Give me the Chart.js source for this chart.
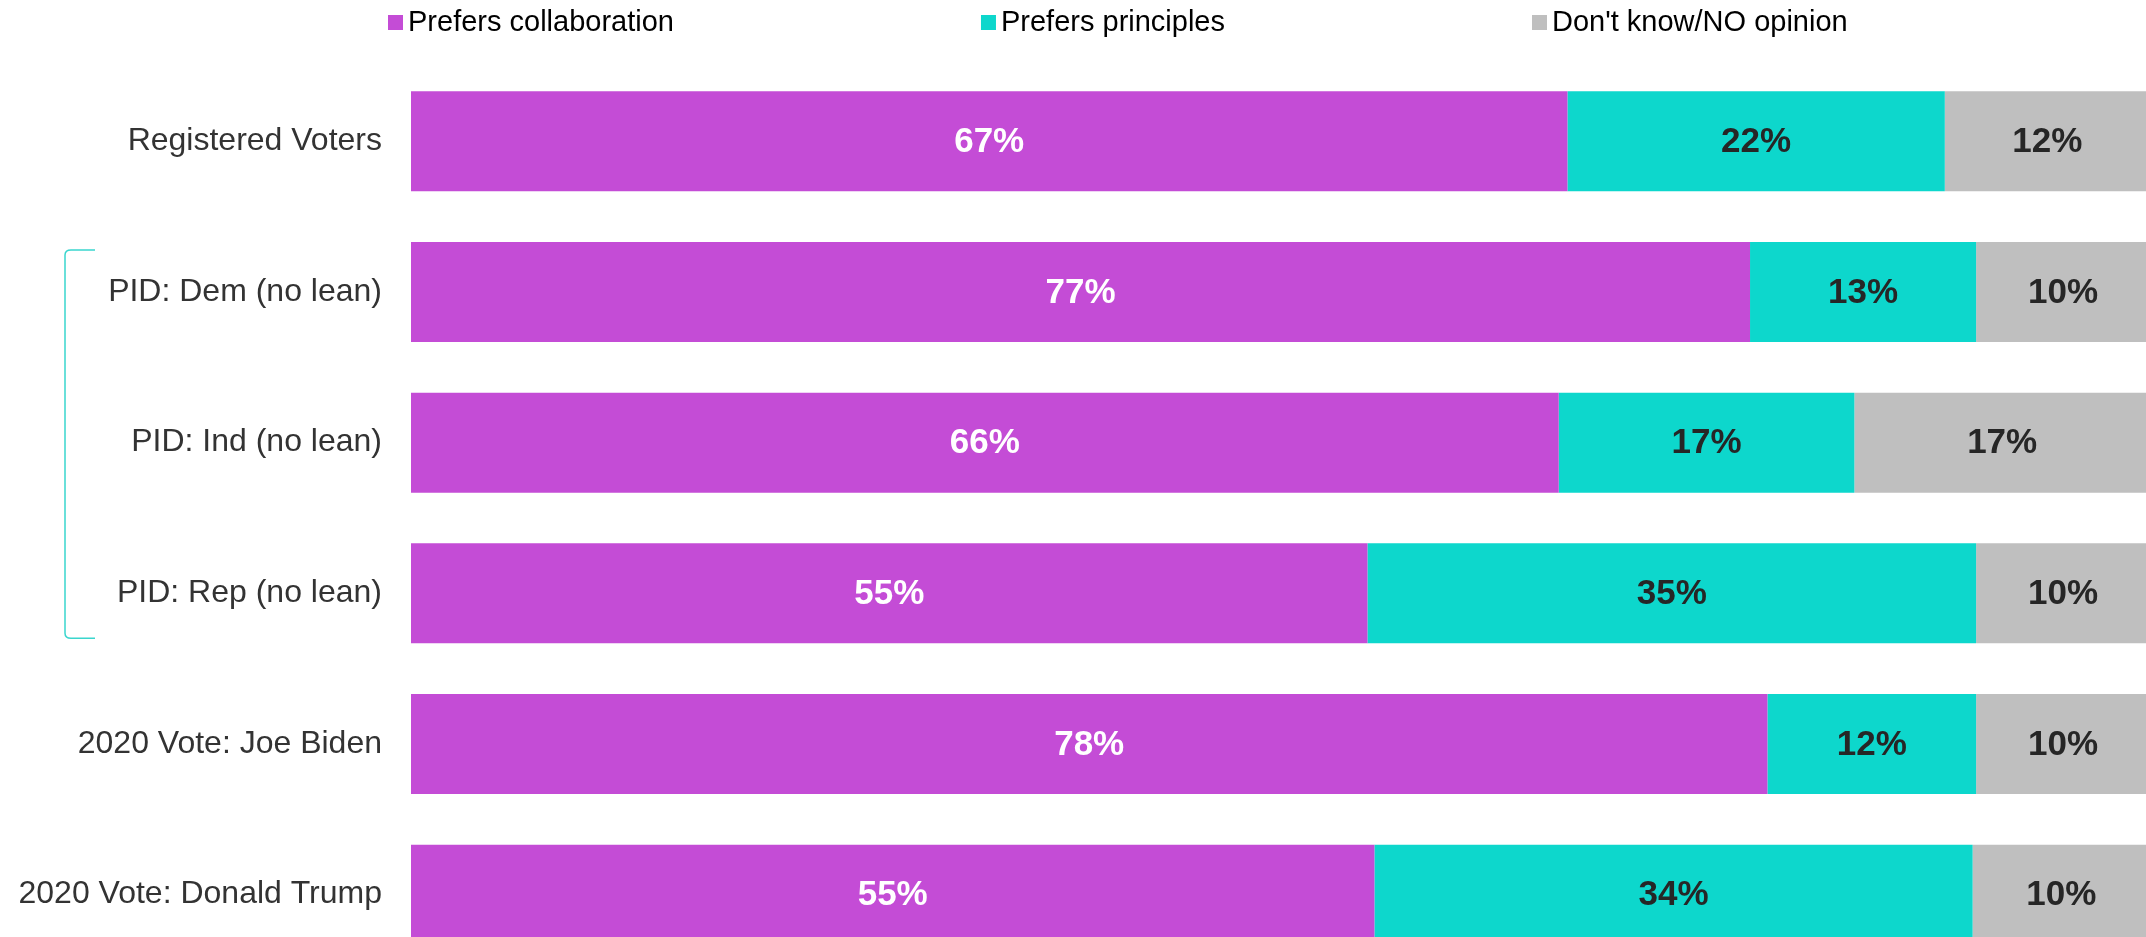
<!DOCTYPE html>
<html>
<head>
<meta charset="utf-8">
<script src="https://cdn.jsdelivr.net/npm/chart.js@4"></script>
<style>
    html, body { margin: 0; padding: 0; background: #ffffff; }
    body { width: 2146px; height: 937px; overflow: hidden; }
    canvas { display: block; }
</style>
</head>
<body>
<canvas id="chartColaboracion" width="2150" height="970"></canvas>
<script>
const categorias = [
    'Registered Voters',
    'PID: Dem (no lean)',
    'PID: Ind (no lean)',
    'PID: Rep (no lean)',
    '2020 Vote: Joe Biden',
    '2020 Vote: Donald Trump',
];
const nombresSeries = ['Prefers collaboration', 'Prefers principles', "Don't know/NO opinion"];
const colaboracion = [66.5, 77, 66, 55, 78, 55.4];
const principios = [21.7, 13, 17, 35, 12, 34.4];
const sinOpinion = [11.8, 10, 17, 10, 10, 10.2];

const fuente = '"Liberation Sans", Arial, sans-serif';

// etiquetas de porcentaje dentro de cada segmento
const etiquetasBarras = {
    id: 'etiquetasBarras',
    afterDatasetsDraw(chart) {
        const {ctx} = chart;
        ctx.save();
        ctx.font = 'bold 35px ' + fuente;
        ctx.textAlign = 'center';
        ctx.textBaseline = 'middle';
        chart.data.datasets.forEach((ds, i) => {
            chart.getDatasetMeta(i).data.forEach((barra, j) => {
                ctx.fillStyle = ds.colorEtiqueta;
                ctx.fillText(Math.round(ds.data[j]) + '%', (barra.x + barra.base) / 2, barra.y + 1);
            });
        });
        ctx.restore();
    }
};

// leyenda dibujada a mano para respetar el espaciado original
const leyenda = {
    id: 'leyenda',
    afterDraw(chart) {
        const {ctx} = chart;
        ctx.save();
        ctx.font = '29px ' + fuente;
        ctx.textBaseline = 'alphabetic';
        ctx.textAlign = 'left';
        let x = 388;
        chart.data.datasets.forEach(ds => {
            ctx.fillStyle = ds.backgroundColor;
            ctx.fillRect(x, 15, 15, 15);
            ctx.fillStyle = '#000000';
            ctx.fillText(ds.label, x + 20, 31);
            x += 20 + ctx.measureText(ds.label).width + 307;
        });
        ctx.restore();
    }
};

// corchete que agrupa las filas de PID
const corchete = {
    id: 'corchete',
    afterDraw(chart) {
        const {ctx} = chart;
        const y = chart.scales.y;
        const arriba = y.getPixelForValue(1) - 42;
        const abajo = y.getPixelForValue(3) + 45;
        ctx.save();
        ctx.strokeStyle = '#3ad6ce';
        ctx.lineWidth = 1.5;
        ctx.beginPath();
        ctx.moveTo(95, arriba);
        ctx.lineTo(71, arriba);
        ctx.quadraticCurveTo(65, arriba, 65, arriba + 5);
        ctx.lineTo(65, abajo - 5);
        ctx.quadraticCurveTo(65, abajo, 71, abajo);
        ctx.lineTo(95, abajo);
        ctx.stroke();
        ctx.restore();
    }
};

iniciarGrafico();

function iniciarGrafico() {
    const ctx = document.getElementById('chartColaboracion');

    const dataGrafico = {
        labels: categorias,
        datasets: [
            {
                label: nombresSeries[0],
                data: colaboracion,
                backgroundColor: '#c44cd6',
                colorEtiqueta: '#ffffff',
            },
            {
                label: nombresSeries[1],
                data: principios,
                backgroundColor: '#0dd7cc',
                colorEtiqueta: '#262626',
            },
            {
                label: nombresSeries[2],
                data: sinOpinion,
                backgroundColor: '#bfbfbf',
                colorEtiqueta: '#262626',
            },
        ]
    };

    new Chart(ctx, {
        type: 'bar',
        data: dataGrafico,
        plugins: [etiquetasBarras, leyenda, corchete],
        options: {
            indexAxis: 'y',
            responsive: false,
            animation: false,
            categoryPercentage: 1,
            barPercentage: 0.664,
            layout: {
                padding: {top: 66, right: 0, bottom: 0, left: 0}
            },
            scales: {
                x: {
                    stacked: true,
                    min: 0,
                    max: 100,
                    display: false,
                },
                y: {
                    stacked: true,
                    grid: {display: false, drawTicks: false},
                    border: {display: false},
                    ticks: {
                        color: '#333333',
                        padding: 29,
                        font: {family: fuente, size: 32},
                    },
                    afterFit(escala) {
                        escala.width = 411;
                        // sin margen extra arriba/abajo por las etiquetas
                        escala.paddingTop = 0;
                        escala.paddingBottom = 0;
                    }
                }
            },
            plugins: {
                legend: {display: false},
                tooltip: {enabled: false},
            }
        }
    });
}
</script>
</body>
</html>
